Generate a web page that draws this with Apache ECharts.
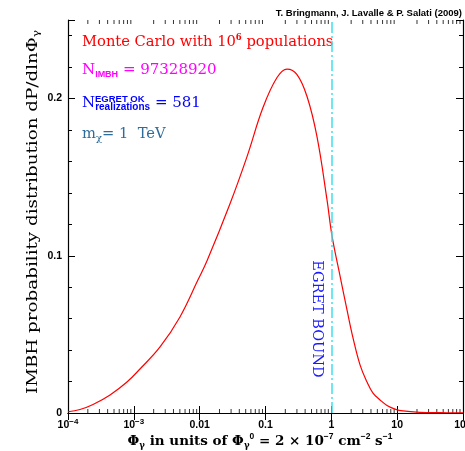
<!DOCTYPE html>
<html>
<head>
<meta charset="utf-8">
<script src="https://cdn.jsdelivr.net/npm/echarts@6/dist/echarts.min.js"></script>
<style>html,body{margin:0;padding:0;background:#fff}#c{width:465px;height:451px}</style>
</head>
<body>
<div id="c"></div>
<script>
// ---- data ----
const phiValues  = [1e-4, 1.52e-4, 2.40e-4, 4.35e-4, 7.87e-4, 1.24e-3, 2.50e-3, 5.02e-3, 9.44e-3, 0.01294, 0.0289, 0.0524, 0.0916, 0.1496, 0.2123, 0.3013, 0.4276, 0.6055, 0.859, 1.024, 1.355, 1.730, 2.134, 2.728, 3.483, 4.296, 5.495, 7.01, 9.27, 12.27, 22.2, 44.8, 100];
const probValues = [0.0008, 0.0022, 0.0054, 0.0115, 0.0197, 0.0280, 0.0420, 0.0611, 0.0847, 0.0968, 0.1331, 0.1631, 0.1943, 0.2134, 0.2188, 0.2153, 0.2013, 0.1758, 0.1357, 0.1127, 0.0873, 0.0656, 0.0478, 0.0306, 0.0197, 0.0127, 0.0083, 0.0048, 0.0025, 0.0013, 0.00045, 0.0002, 0.0001];
const egretBound = 1;
const xMin = 1e-4, xMax = 100;
const yMin = 0, yMax = 0.25;
const xTickLabels = {'-4': ['10', '−4'], '-3': ['10', '−3'], '-2': ['0.01'], '-1': ['0.1'], '0': ['1'], '1': ['10'], '2': ['100']};
const yTickLabels = {'0': '0', '0.1': '0.1', '0.2': '0.2'};

const curve = phiValues.map((x, i) => [x, probValues[i]]);
// minor log ticks (2..9 x 10^k)
const minorX = [];
for (let e = -4; e < 2; e++) for (let k = 2; k <= 9; k++) minorX.push(k * Math.pow(10, e));

const chart = echarts.init(document.getElementById('c'), null, {renderer: 'canvas'});
const tickFont = {fontFamily: 'Liberation Sans', fontWeight: 'bold', fontSize: 10.5, color: '#000'};
const serif = 'DejaVu Serif';

function yAxis(pos, interval, len, showLabel, showLine) {
  return {
    type: 'value', min: yMin, max: yMax, interval: interval, position: pos,
    axisLine: {show: showLine, lineStyle: {color: '#000', width: 1.2}},
    axisTick: {show: true, inside: true, length: len, lineStyle: {color: '#000', width: 1}},
    splitLine: {show: false},
    axisLabel: showLabel ? Object.assign({
      show: true, margin: 6,
      formatter: v => {
        const k = (Math.round(v * 100) / 100).toString();
        return yTickLabels[k] !== undefined ? yTickLabels[k] : '';
      }
    }, tickFont) : {show: false}
  };
}
function xAxis(pos, showLabel) {
  return {
    type: 'log', logBase: 10, min: xMin, max: xMax, position: pos,
    axisLine: {show: true, lineStyle: {color: '#000', width: 1.2}},
    axisTick: {show: true, inside: true, length: 7, lineStyle: {color: '#000', width: 1}},
    splitLine: {show: false}, minorTick: {show: false},
    axisLabel: showLabel ? {
      show: true, margin: 5,
      formatter: v => {
        const e = Math.round(Math.log10(v));
        const t = xTickLabels[String(e)];
        if (!t) return '';
        return t.length === 2 ? '{a|' + t[0] + '}{s|' + t[1] + '}' : '{a|' + t[0] + '}';
      },
      rich: {
        a: Object.assign({lineHeight: 14}, tickFont),
        s: {fontFamily: 'Liberation Sans', fontWeight: 'bold', fontSize: 8, color: '#000', verticalAlign: 'top', lineHeight: 14, padding: [0, 0, 6, 0]}
      }
    } : {show: false}
  };
}

const option = {
  animation: false,
  backgroundColor: '#fff',
  grid: {left: 68, right: 2, top: 20, bottom: 38, containLabel: false, outerBoundsMode: 'none'},
  xAxis: [xAxis('bottom', true), xAxis('top', false)],
  yAxis: [yAxis('left', 0.02, 4, true, true), yAxis('left', 0.1, 7, false, false),
          yAxis('right', 0.02, 4, false, true), yAxis('right', 0.1, 7, false, false)],
  series: [
    {
      type: 'line', data: curve, smooth: 0.4, showSymbol: false, symbol: 'none',
      lineStyle: {color: '#ff0000', width: 1.2}, silent: true,
      markLine: {
        silent: true, symbol: ['none', 'none'], label: {show: false},
        lineStyle: {color: '#3fe0ee', width: 1.5, type: [11, 3, 2, 3]},
        data: [{xAxis: egretBound}]
      }
    },
    {
      type: 'scatter', data: minorX.map(x => [x, yMin]), symbol: 'rect', symbolSize: [1, 4],
      symbolOffset: [0, -2], itemStyle: {color: '#000'}, silent: true, clip: false
    },
    {
      type: 'scatter', xAxisIndex: 1, data: minorX.map(x => [x, yMax]), symbol: 'rect', symbolSize: [1, 4],
      symbolOffset: [0, 2], itemStyle: {color: '#000'}, silent: true, clip: false
    }
  ],
  graphic: [
    {type: 'text', right: 3, top: 8, style: {text: 'T. Bringmann, J. Lavalle & P. Salati (2009)', font: 'bold 9.5px "Liberation Sans"', fill: '#000'}},
    {type: 'text', left: 82, top: 33, style: {
      text: '{r|Monte Carlo with 10}{p|6}{r| populations}',
      rich: {r: {fontFamily: serif, fontSize: 14.7, fill: '#ff0000', lineHeight: 18},
             p: {fontFamily: serif, fontSize: 8.5, fontWeight: 'bold', fill: '#ff0000', verticalAlign: 'top', lineHeight: 18, padding: [0, 0, 6, 0]}}
    }},
    {type: 'text', left: 82, top: 63, style: {
      text: '{r|N}{s|IMBH}{r| = 97328920}',
      rich: {r: {fontFamily: serif, fontSize: 15, fill: '#ff00ff', lineHeight: 18},
             s: {fontFamily: 'Liberation Sans', fontWeight: 'bold', fontSize: 9, fill: '#ff00ff', verticalAlign: 'bottom', lineHeight: 18, padding: [6, 0, 0, 0]}}
    }},
    {type: 'text', left: 82, top: 94, style: {
      text: '{r|N}{s|realizations}{r| = 581}',
      rich: {r: {fontFamily: serif, fontSize: 15, fill: '#0000ff', lineHeight: 18},
             s: {fontFamily: 'Liberation Sans', fontWeight: 'bold', fontSize: 10, fill: '#0000ff', verticalAlign: 'bottom', lineHeight: 18, padding: [8, 0, 0, 0]}}
    }},
    {type: 'text', left: 95, top: 94, style: {text: 'EGRET OK', font: 'bold 9.5px "Liberation Sans"', fill: '#0000ff'}},
    {type: 'text', left: 82, top: 127, style: {
      text: '{r|m}{s|χ}{r|= 1  TeV}',
      rich: {r: {fontFamily: serif, fontSize: 14.7, fill: '#2e6c9a', lineHeight: 18},
             s: {fontFamily: serif, fontSize: 10, fill: '#2e6c9a', verticalAlign: 'bottom', lineHeight: 18, padding: [6, 0, 0, 0]}}
    }},
    {type: 'text', x: 317, y: 319, rotation: -Math.PI / 2, style: {
      text: 'EGRET BOUND', font: '14.5px "DejaVu Serif"', fill: '#1a1aff', textAlign: 'center', textVerticalAlign: 'middle'
    }},
    {type: 'text', x: 33, y: 212, rotation: Math.PI / 2, scaleX: 1.28, style: {
      text: '{r|IMBH probability distribution dP/dlnΦ}{s|γ}',
      textAlign: 'center', textVerticalAlign: 'middle',
      rich: {r: {fontFamily: serif, fontSize: 14.3, fill: '#000', lineHeight: 18},
             s: {fontFamily: serif, fontSize: 9.5, fill: '#000', verticalAlign: 'bottom', lineHeight: 18, padding: [6, 0, 0, 0]}}
    }},
    {type: 'text', x: 260, y: 441, style: {
      text: '{r|Φ}{s|γ}{r| in units of Φ}{s|γ}{p|0}{r| = 2 × 10}{p|−7}{r| cm}{p|−2}{r| s}{p|−1}',
      textAlign: 'center', textVerticalAlign: 'middle',
      rich: {r: {fontFamily: serif, fontWeight: 'bold', fontSize: 13.5, fill: '#000', lineHeight: 18},
             s: {fontFamily: serif, fontWeight: 'bold', fontSize: 8.5, fill: '#000', verticalAlign: 'bottom', lineHeight: 18, padding: [5, 0, 0, 0]},
             p: {fontFamily: 'Liberation Sans', fontWeight: 'bold', fontSize: 8.5, fill: '#000', verticalAlign: 'top', lineHeight: 18, padding: [0, 0, 6, 0]}}
    }}
  ]
};
chart.setOption(option);
</script>
</body>
</html>
